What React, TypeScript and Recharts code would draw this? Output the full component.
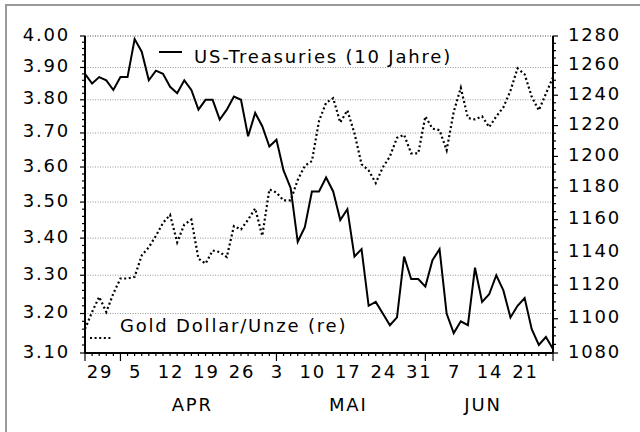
import { LineChart, Line, XAxis, YAxis, ReferenceLine } from "recharts";

// Business days 25.03.2010 - 25.06.2010 (MM-DD)
const dates = [
  "03-25", "03-26", "03-29", "03-30", "03-31",
  "04-01", "04-02", "04-05", "04-06", "04-07", "04-08", "04-09", "04-12", "04-13", "04-14", "04-15", "04-16",
  "04-19", "04-20", "04-21", "04-22", "04-23", "04-26", "04-27", "04-28", "04-29", "04-30",
  "05-03", "05-04", "05-05", "05-06", "05-07", "05-10", "05-11", "05-12", "05-13", "05-14",
  "05-17", "05-18", "05-19", "05-20", "05-21", "05-24", "05-25", "05-26", "05-27", "05-28", "05-31",
  "06-01", "06-02", "06-03", "06-04", "06-07", "06-08", "06-09", "06-10", "06-11",
  "06-14", "06-15", "06-16", "06-17", "06-18", "06-21", "06-22", "06-23", "06-24", "06-25",
];

// US-Treasuries 10 Jahre, Rendite in % (linke Achse)
const treasury = [
  3.88, 3.85, 3.87, 3.86, 3.83, 3.87, 3.87, 3.99, 3.95, 3.86,
  3.89, 3.88, 3.84, 3.82, 3.86, 3.83, 3.77, 3.8, 3.8, 3.74,
  3.77, 3.81, 3.8, 3.69, 3.76, 3.72, 3.66, 3.68, 3.59, 3.54,
  3.39, 3.43, 3.53, 3.53, 3.57, 3.53, 3.45, 3.48, 3.35, 3.37,
  3.22, 3.23, 3.2, 3.17, 3.19, 3.35, 3.29, 3.29, 3.27, 3.34,
  3.37, 3.2, 3.15, 3.18, 3.17, 3.32, 3.23, 3.25, 3.3, 3.26,
  3.19, 3.22, 3.24, 3.16, 3.12, 3.14, 3.11,
];

// Gold, Dollar je Unze (rechte Achse)
const gold = [
  1094, 1104, 1113, 1104, 1115, 1124, 1124, 1125, 1138, 1143,
  1150, 1158, 1163, 1146, 1157, 1160, 1136, 1133, 1141, 1140,
  1137, 1156, 1154, 1160, 1167, 1150, 1179, 1177, 1172, 1172,
  1185, 1194, 1197, 1223, 1235, 1238, 1222, 1230, 1215, 1195,
  1191, 1183, 1193, 1200, 1212, 1214, 1202, 1202, 1226, 1218,
  1217, 1204, 1229, 1245, 1225, 1224, 1226, 1219, 1226, 1232,
  1243, 1258, 1254, 1239, 1230, 1241, 1252,
];

const leftMajor = [3.1, 3.2, 3.3, 3.4, 3.5, 3.6, 3.7, 3.8, 3.9, 4.0];
const rightMajor = [1080, 1100, 1120, 1140, 1160, 1180, 1200, 1220, 1240, 1260, 1280];
const monthLabels = [
  { at: "04-15", label: "APR" },
  { at: "05-17", label: "MAI" },
  { at: "06-11", label: "JUN" },
];

// minor ticks: every 0.02 left, every 5 right
const leftTicks: number[] = [];
for (let k = 310; k <= 400; k += 2) leftTicks.push(k / 100);
const rightTicks: number[] = [];
for (let k = 1080; k <= 1280; k += 5) rightTicks.push(k);

const data = dates.map((d, i) => ({ d, ust: treasury[i], gold: gold[i] }));

const FONT = "'DejaVu Sans', Verdana, sans-serif";
const txt = { fontFamily: FONT, fontSize: 18, letterSpacing: 1.8, fill: "#000" } as const;

function LeftTick({ x, y, payload }: any) {
  const v = payload.value as number;
  const major = Math.round(v * 100) % 10 === 0;
  return (
    <g>
      <line x1={x} x2={x - (major ? 5 : 3)} y1={y} y2={y} stroke="#000" strokeWidth={1.2} />
      {major && (
        <text x={x - 15} y={y + 4.5} textAnchor="end" style={txt}>
          {v.toFixed(2)}
        </text>
      )}
    </g>
  );
}

function RightTick({ x, y, payload }: any) {
  const v = payload.value as number;
  const major = v % 20 === 0;
  return (
    <g>
      <line x1={x} x2={x + (major ? 5 : 3)} y1={y} y2={y} stroke="#000" strokeWidth={1.2} />
      {major && (
        <text x={x + 15} y={y + 4.5} textAnchor="start" style={txt}>
          {v}
        </text>
      )}
    </g>
  );
}

function DateTick({ x, y, payload }: any) {
  const md = payload.value as string;
  const i = dates.indexOf(md);
  const [m, d] = md.split("-").map(Number);
  const monday = new Date(2010, m - 1, d).getDay() === 1;
  const edge = i === 0 || i === dates.length - 1 || dates[i - 1].slice(0, 2) !== md.slice(0, 2);
  const month = monthLabels.find((ml) => ml.at === md);
  return (
    <g>
      <line x1={x} x2={x} y1={y} y2={y + (edge ? 8 : 3)} stroke="#000" strokeWidth={1.2} />
      {monday && (
        <text x={x + 0.9} y={y + 25} textAnchor="middle" style={txt}>
          {d}
        </text>
      )}
      {month && (
        <text x={x + 0.9} y={y + 58} textAnchor="middle" style={txt}>
          {month.label}
        </text>
      )}
    </g>
  );
}

export default function App() {
  return (
    <div style={{ position: "fixed", left: 0, top: 0, width: 640, height: 432, background: "#fff", overflow: "hidden" }}>
      <div
        style={{
          position: "absolute",
          left: 5,
          top: 4,
          width: 700,
          height: 500,
          borderLeft: "2px solid #999",
          borderTop: "2px solid #999",
        }}
      />
      <div style={{ position: "absolute", left: 0, top: 0 }}>
        <LineChart width={640} height={432} data={data} margin={{ top: 36, right: 0, bottom: 19, left: 0 }}>
          <XAxis
            dataKey="d"
            type="category"
            interval={0}
            height={60}
            tickSize={0}
            tickMargin={0}
            tickLine={false}
            axisLine={{ stroke: "#000", strokeWidth: 2 }}
            tick={<DateTick />}
          />
          <YAxis
            yAxisId="l"
            type="number"
            scale="log"
            domain={[3.1, 4.0]}
            allowDataOverflow
            ticks={leftTicks}
            interval={0}
            width={85}
            tickSize={0}
            tickMargin={0}
            tickLine={false}
            axisLine={{ stroke: "#000", strokeWidth: 2 }}
            tick={<LeftTick />}
          />
          <YAxis
            yAxisId="r"
            orientation="right"
            type="number"
            scale="log"
            domain={[1080, 1280]}
            allowDataOverflow
            ticks={rightTicks}
            interval={0}
            width={87}
            tickSize={0}
            tickMargin={0}
            tickLine={false}
            axisLine={{ stroke: "#000", strokeWidth: 2 }}
            tick={<RightTick />}
          />
          {leftMajor.slice(1).map((v) => (
            <ReferenceLine
              key={v}
              yAxisId="l"
              y={v}
              stroke={v === 4.0 ? "#444" : "#999"}
              strokeWidth={1}
              strokeDasharray="1 1.5"
            />
          ))}
          <Line
            yAxisId="r"
            dataKey="gold"
            type="linear"
            stroke="#000"
            strokeWidth={2.2}
            strokeDasharray="2 2.6"
            dot={false}
            isAnimationActive={false}
          />
          <Line
            yAxisId="l"
            dataKey="ust"
            type="linear"
            stroke="#000"
            strokeWidth={2}
            dot={false}
            isAnimationActive={false}
          />
        </LineChart>
      </div>
      <svg width={640} height={432} style={{ position: "absolute", left: 0, top: 0, pointerEvents: "none" }}>
        <line x1={159} x2={182} y1={52} y2={52} stroke="#000" strokeWidth={2} />
        <text x={194} y={63} style={txt}>
          US-Treasuries (10 Jahre)
        </text>
        <line x1={90} x2={113} y1={338} y2={338} stroke="#000" strokeWidth={2.2} strokeDasharray="2 2.6" />
        <text x={120} y={332} style={txt}>
          Gold Dollar/Unze (re)
        </text>
      </svg>
    </div>
  );
}
